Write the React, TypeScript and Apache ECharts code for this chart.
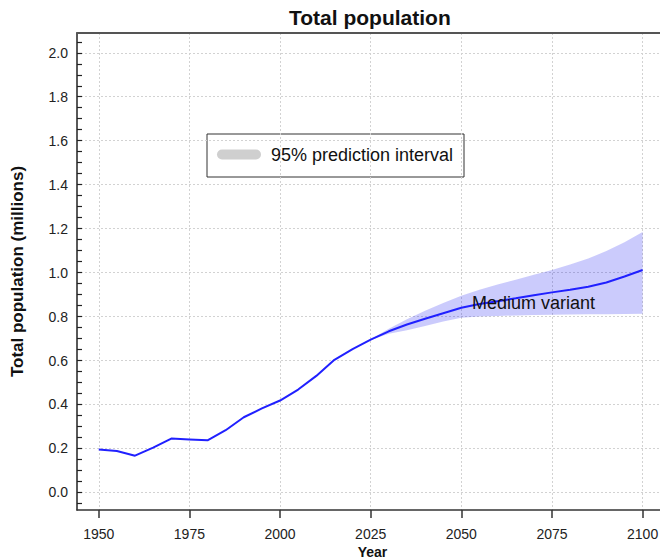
import React, { useEffect, useRef } from "react";
import * as echarts from "echarts";

const years = [1950, 1955, 1960, 1965, 1970, 1975, 1980, 1985, 1990, 1995, 2000, 2005, 2010, 2015, 2020, 2025, 2030, 2035, 2040, 2045, 2050, 2055, 2060, 2065, 2070, 2075, 2080, 2085, 2090, 2095, 2100];
const medium = [0.195, 0.188, 0.167, 0.204, 0.245, 0.241, 0.237, 0.283, 0.342, 0.382, 0.418, 0.468, 0.53, 0.603, 0.652, 0.695, 0.733, 0.764, 0.79, 0.815, 0.84, 0.857, 0.87, 0.883, 0.897, 0.91, 0.922, 0.936, 0.955, 0.982, 1.012];

const bandYears = [2025, 2030, 2035, 2040, 2045, 2050, 2055, 2060, 2065, 2070, 2075, 2080, 2085, 2090, 2095, 2100];
const bandUpper = [0.697, 0.745, 0.788, 0.826, 0.862, 0.895, 0.922, 0.946, 0.968, 0.99, 1.012, 1.037, 1.064, 1.098, 1.138, 1.185];
const bandLower = [0.693, 0.722, 0.738, 0.757, 0.778, 0.795, 0.8, 0.803, 0.805, 0.807, 0.808, 0.809, 0.81, 0.811, 0.812, 0.813];

const xTicks = [1950, 1975, 2000, 2025, 2050, 2075, 2100];
const yTicks = [0, 0.2, 0.4, 0.6, 0.8, 1.0, 1.2, 1.4, 1.6, 1.8, 2.0];
const yMinorTicks = [-0.05, 0.05, 0.1, 0.15, 0.25, 0.3, 0.35, 0.45, 0.5, 0.55, 0.65, 0.7, 0.75, 0.85, 0.9, 0.95, 1.05, 1.1, 1.15, 1.25, 1.3, 1.35, 1.45, 1.5, 1.55, 1.65, 1.7, 1.75, 1.85, 1.9, 1.95, 2.05];

const FONT = "Liberation Sans, Arial, sans-serif";
const X_MIN = 1944;
const X_MAX = 2107;
const Y_MIN = -0.08;
const Y_MAX = 2.09;

export default function App() {
  const ref = useRef<HTMLDivElement>(null);
  useEffect(() => {
    if (!ref.current) return;
    const chart = echarts.init(ref.current, undefined, { renderer: "svg" });
    const gridLine = { show: true, lineStyle: { color: "#d2d2d2", type: [2, 2], width: 1 } };
    chart.setOption({
      animation: false,
      backgroundColor: "#ffffff",
      textStyle: { fontFamily: FONT },
      title: {
        text: "Total population",
        left: 289,
        top: 7,
        padding: 0,
        textStyle: { fontFamily: FONT, fontSize: 21, fontWeight: "bold", color: "#111" },
      },
      grid: { left: 77, top: 33, width: 591, height: 477, containLabel: false, outerBoundsMode: "none" },
      xAxis: [
        {
          type: "value",
          min: X_MIN,
          max: X_MAX,
          name: "Year",
          nameLocation: "middle",
          nameGap: 35,
          nameMoveOverlap: false,
          nameTextStyle: { fontFamily: FONT, fontSize: 14, fontWeight: "bold", color: "#111", lineHeight: 14 },
          axisLine: { show: true, onZero: false, lineStyle: { color: "#333", width: 1.5 } },
          axisTick: { show: true, inside: false, length: 8, customValues: xTicks, lineStyle: { color: "#333", width: 1.5 } },
          axisLabel: {
            show: true,
            customValues: xTicks,
            margin: 17,
            fontFamily: FONT,
            fontSize: 14,
            lineHeight: 14,
            color: "#222",
            formatter: (v: number) => String(v),
          },
          splitLine: gridLine,
        },
        {
          type: "value",
          position: "top",
          min: X_MIN,
          max: X_MAX,
          axisLine: { show: true, onZero: false, lineStyle: { color: "#555", width: 2 } },
          axisTick: { show: false },
          axisLabel: { show: false },
          splitLine: { show: false },
        },
      ],
      yAxis: [
        {
          type: "value",
          min: Y_MIN,
          max: Y_MAX,
          name: "Total population (millions)",
          nameLocation: "middle",
          nameGap: 51,
          nameRotate: 90,
          nameMoveOverlap: false,
          nameTextStyle: { fontFamily: FONT, fontSize: 17, fontWeight: "bold", color: "#111" },
          axisLine: { show: true, onZero: false, lineStyle: { color: "#222", width: 1.5 } },
          axisTick: { show: true, inside: true, length: 5, customValues: yTicks, lineStyle: { color: "#222", width: 1.2 } },
          axisLabel: {
            show: true,
            customValues: yTicks,
            margin: 9,
            fontFamily: FONT,
            fontSize: 14,
            color: "#222",
            formatter: (v: number) => v.toFixed(1),
          },
          splitLine: gridLine,
        },
        {
          type: "value",
          min: Y_MIN,
          max: Y_MAX,
          position: "left",
          axisLine: { show: false },
          axisTick: { show: true, inside: true, length: 5, customValues: yMinorTicks, lineStyle: { color: "#222", width: 1.2 } },
          axisLabel: { show: false },
          splitLine: { show: false },
        },
      ],
      series: [
        {
          type: "custom",
          name: "95% prediction interval",
          xAxisIndex: 0,
          yAxisIndex: 0,
          clip: true,
          silent: true,
          data: [[bandYears[0], bandUpper[0]]],
          renderItem: (params: any, api: any) => {
            const pts: number[][] = [];
            for (let i = 0; i < bandYears.length; i++) pts.push(api.coord([bandYears[i], bandUpper[i]]));
            for (let i = bandYears.length - 1; i >= 0; i--) pts.push(api.coord([bandYears[i], bandLower[i]]));
            return {
              type: "polygon",
              shape: { points: pts },
              style: { fill: "rgba(10,10,240,0.21)", stroke: "none" },
            };
          },
          z: 1,
        },
        {
          type: "line",
          name: "Medium variant",
          xAxisIndex: 0,
          yAxisIndex: 0,
          data: years.map((y, i) => [y, medium[i]]),
          showSymbol: false,
          symbol: "none",
          lineStyle: { color: "#2020ff", width: 2 },
          z: 3,
        },
      ],
      graphic: [
        {
          type: "text",
          x: 472,
          y: 303,
          style: { text: "Medium variant", fontFamily: FONT, fontSize: 18, fill: "#111", textVerticalAlign: "middle", textAlign: "left" },
          z: 10,
        },
        {
          type: "group",
          z: 10,
          children: [
            {
              type: "rect",
              shape: { x: 207, y: 134, width: 257, height: 43 },
              style: { fill: "#ffffff", stroke: "#333", lineWidth: 1 },
            },
            {
              type: "line",
              shape: { x1: 222, y1: 154.5, x2: 256, y2: 154.5 },
              style: { stroke: "#cfcfcf", lineWidth: 10, lineCap: "round" },
            },
            {
              type: "text",
              x: 271,
              y: 155,
              style: { text: "95% prediction interval", fontFamily: FONT, fontSize: 18, fill: "#111", textVerticalAlign: "middle", textAlign: "left" },
            },
          ],
        },
      ],
    });
    return () => chart.dispose();
  }, []);
  return <div ref={ref} style={{ position: "fixed", left: 0, top: 0, width: 660, height: 560 }} />;
}
